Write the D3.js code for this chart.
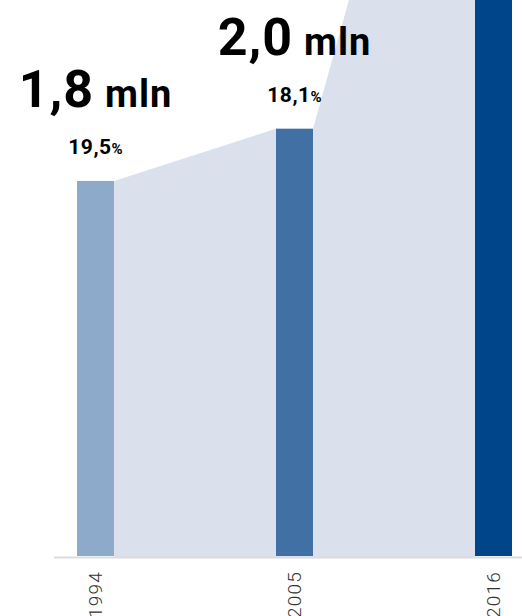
<!DOCTYPE html>
<html>
<head>
<meta charset="utf-8">
<script src="https://cdn.jsdelivr.net/npm/d3@7/dist/d3.min.js"></script>
<style>
  html, body { margin: 0; padding: 0; background: #fff; }
  svg { display: block; }
</style>
</head>
<body>
<svg id="chart" width="522" height="616"></svg>
<script>
// ---- data ----
const years = ["1994", "2005", "2016"];
const values = [1.8, 2.05, 4.83];           // mln (bar heights)
const mlnLabels = ["1,8", "2,0", ""];
const pctLabels = ["19,5", "18,1", ""];
const barColors = ["#8eaacb", "#4070a4", "#00448a"];

// ---- layout ----
const W = 522, H = 616;
const baseY = 557;
const barW = 37;

const svg = d3.select("#chart");

const x = d3.scalePoint().domain(years).range([95.5, 493.5]);
const y = d3.scaleLinear().domain([0, 2.666]).range([baseY, 0]);

// background area connecting bar tops
const pts = [];
years.forEach((yr, i) => {
  const cx = x(yr);
  if (i === 0) {
    pts.push([cx + barW / 2, values[i]]);
  } else if (i === years.length - 1) {
    pts.push([cx - barW / 2, values[i]]);
  } else {
    pts.push([cx - barW / 2, values[i]]);
    pts.push([cx + barW / 2, values[i]]);
  }
});
const area = d3.area()
  .x(d => d[0])
  .y0(y(0))
  .y1(d => y(d[1]));
svg.append("path")
  .datum(pts)
  .attr("d", area)
  .attr("fill", "#dae1ec");

// bars
svg.selectAll("rect.bar")
  .data(years)
  .join("rect")
  .attr("class", "bar")
  .attr("x", d => x(d) - barW / 2)
  .attr("width", barW)
  .attr("y", (d, i) => y(values[i]))
  .attr("height", (d, i) => y(0) - y(values[i]) - 1)
  .attr("fill", (d, i) => barColors[i]);

// axis line
svg.append("line")
  .attr("x1", 54).attr("x2", W)
  .attr("y1", baseY + 0.5).attr("y2", baseY + 0.5)
  .attr("stroke", "#dcdcdc")
  .attr("stroke-width", 2);

// year labels (rotated)
svg.selectAll("text.year")
  .data(years)
  .join("text")
  .attr("class", "year")
  .attr("transform", d => `translate(${x(d) + 6.5},571) rotate(-90)`)
  .attr("text-anchor", "end")
  .attr("font-family", "Roboto, sans-serif")
  .attr("font-weight", 300)
  .attr("font-size", 19)
  .attr("letter-spacing", 1.2)
  .attr("fill", "#333")
  .text(d => d);

// value labels
years.forEach((yr, i) => {
  if (!mlnLabels[i]) return;
  const top = y(values[i]);
  const t = svg.append("text")
    .attr("x", x(yr))
    .attr("y", top - 74)
    .attr("text-anchor", "middle")
    .attr("font-family", "Roboto, sans-serif")
    .attr("font-weight", 700)
    .attr("fill", "#000");
  t.append("tspan").attr("font-size", 52).attr("letter-spacing", 1).text(mlnLabels[i]);
  t.append("tspan").attr("font-size", 38).attr("dx", 11).attr("letter-spacing", 1).text("mln");

  const p = svg.append("text")
    .attr("x", x(yr))
    .attr("y", top - 27)
    .attr("text-anchor", "middle")
    .attr("font-family", "Roboto, sans-serif")
    .attr("font-weight", 700)
    .attr("fill", "#000");
  p.append("tspan").attr("font-size", 21).attr("letter-spacing", 0.5).text(pctLabels[i]);
  p.append("tspan").attr("font-size", 15).text("%");
});
</script>
</body>
</html>
